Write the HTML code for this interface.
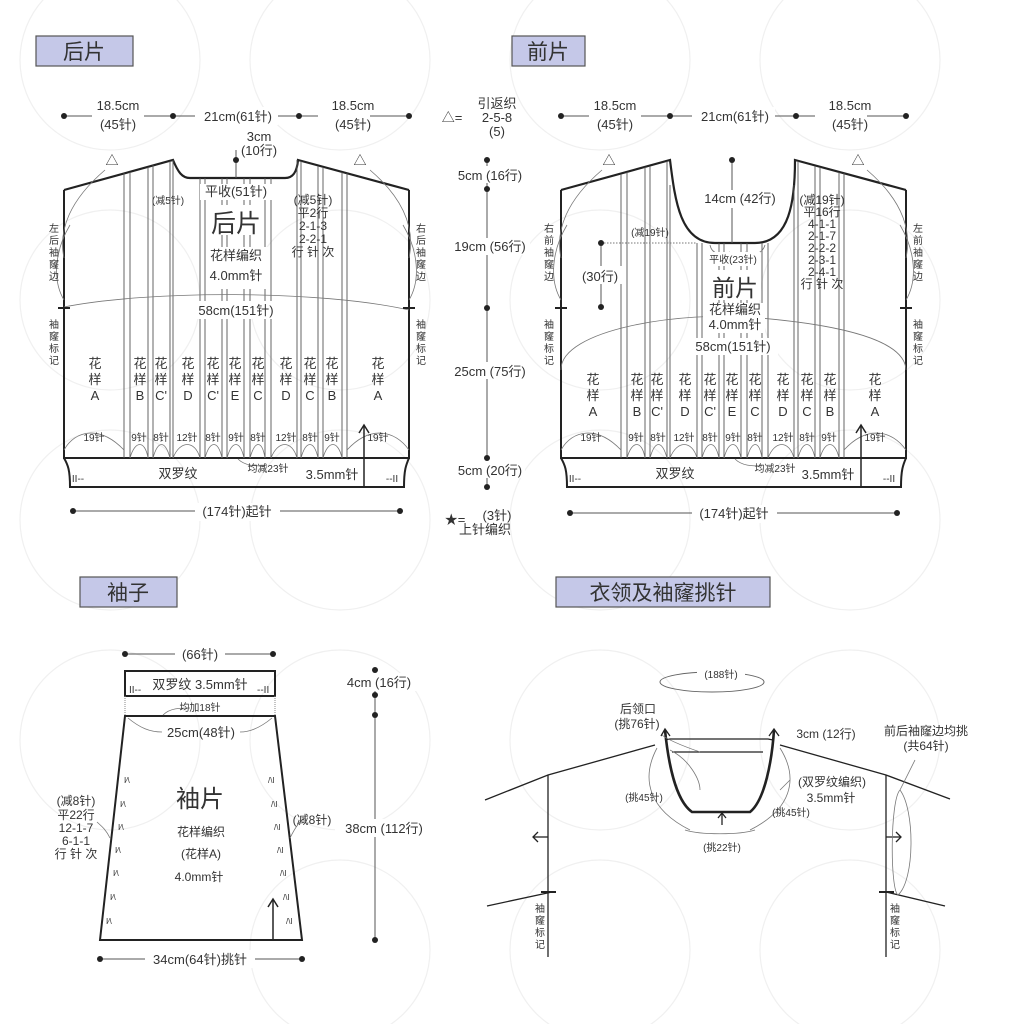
<!DOCTYPE html>
<html><head><meta charset="utf-8"><style>
html,body{margin:0;padding:0;background:#fff}
svg{display:block}
text{font-family:"Liberation Sans","Noto Sans CJK SC",sans-serif;fill:#333}
.s{font-size:12px}.m{font-size:13px}.xs{font-size:10px}
</style></head><body>
<svg width="1014" height="1024" viewBox="0 0 1014 1024" xmlns="http://www.w3.org/2000/svg">
<rect width="1014" height="1024" fill="#fff"/>
<g fill="none" stroke="#f0f0f0" stroke-width="1.2">
<circle cx="110" cy="60" r="90"/><circle cx="340" cy="60" r="90"/><circle cx="600" cy="60" r="90"/><circle cx="850" cy="60" r="90"/>
<circle cx="110" cy="300" r="90"/><circle cx="340" cy="300" r="90"/><circle cx="600" cy="300" r="90"/><circle cx="850" cy="300" r="90"/>
<circle cx="110" cy="520" r="90"/><circle cx="340" cy="520" r="90"/><circle cx="600" cy="520" r="90"/><circle cx="850" cy="520" r="90"/>
<circle cx="110" cy="740" r="90"/><circle cx="340" cy="740" r="90"/><circle cx="600" cy="740" r="90"/><circle cx="850" cy="740" r="90"/>
<circle cx="340" cy="950" r="90"/><circle cx="600" cy="950" r="90"/><circle cx="850" cy="950" r="90"/>
</g>
<g stroke="#555" stroke-width="1.2" fill="#c5c8e8">
<rect x="36" y="36" width="97" height="30"/><rect x="512" y="36" width="73" height="30"/>
<rect x="80" y="577" width="97" height="30"/><rect x="556" y="577" width="214" height="30"/>
</g>
<g style="font-size:21px"><text x="84" y="59" text-anchor="middle">后片</text><text x="548" y="59" text-anchor="middle">前片</text>
<text x="128" y="600" text-anchor="middle">袖子</text><text x="663" y="600" text-anchor="middle">衣领及袖窿挑针</text></g>

<!-- BACK -->
<g stroke="#222" fill="none">
<path d="M64,190 L173,160 C178,172 182,178 190,178 L285,178 C293,178 297,172 298,160 L409,190" stroke-width="2.2"/>
<path d="M64,190 L64,458 L409,458 L409,190" stroke-width="2"/>
<path d="M64,458 C68,465 70,470 70,487 L404,487 C404,470 406,465 409,458" stroke-width="2"/>
</g>
<g stroke="#555" stroke-width="0.9">
<line x1="124" y1="173" x2="124" y2="458"/><line x1="130" y1="172" x2="130" y2="458"/>
<line x1="148" y1="167" x2="148" y2="458"/><line x1="153" y1="165" x2="153" y2="458"/>
<line x1="170" y1="161" x2="170" y2="458"/><line x1="173" y1="160" x2="173" y2="458"/>
<line x1="200" y1="178" x2="200" y2="458"/><line x1="205" y1="178" x2="205" y2="458"/>
<line x1="222" y1="178" x2="222" y2="458"/><line x1="227" y1="178" x2="227" y2="458"/>
<line x1="244" y1="178" x2="244" y2="458"/><line x1="250" y1="178" x2="250" y2="458"/>
<line x1="265" y1="178" x2="265" y2="458"/><line x1="271" y1="178" x2="271" y2="458"/>
<line x1="297" y1="160" x2="297" y2="458"/><line x1="301" y1="161" x2="301" y2="458"/>
<line x1="318" y1="166" x2="318" y2="458"/><line x1="323" y1="167" x2="323" y2="458"/>
<line x1="342" y1="172" x2="342" y2="458"/><line x1="347" y1="173" x2="347" y2="458"/>
</g>
<g stroke="#777" fill="none" stroke-width="0.8">
<path d="M64,307 C150,290 320,290 409,310"/>
<path d="M64,258 C58,230 70,200 105,170"/><path d="M409,258 C415,230 405,200 370,170"/>
<path d="M64,300 C52,280 55,250 70,225"/><path d="M409,300 C421,280 418,250 403,225"/>
<path d="M64,450 C75,430 100,425 124,450"/><path d="M347,450 C370,425 395,430 409,450"/>
<path d="M130,458 C135,440 145,440 148,458"/><path d="M153,458 C158,440 165,440 170,458"/>
<path d="M173,458 C180,440 195,440 200,458"/><path d="M205,458 C210,440 218,440 222,458"/>
<path d="M227,458 C232,440 240,440 244,458"/><path d="M250,458 C255,440 262,440 265,458"/>
<path d="M271,458 C278,440 292,440 297,458"/><path d="M301,458 C306,440 314,440 318,458"/>
<path d="M323,458 C328,440 338,440 342,458"/>
<path d="M238,459 C245,466 255,466 265,466"/>
</g>
<line x1="364" y1="487" x2="364" y2="426" stroke="#222" stroke-width="1.5"/>
<path d="M359,433 L364,425 L369,433" fill="none" stroke="#222" stroke-width="1.5"/>
<g stroke="#222" stroke-width="2"><line x1="58" y1="308" x2="70" y2="308"/><line x1="403" y1="308" x2="415" y2="308"/></g>
<g stroke="#555" stroke-width="1"><line x1="64" y1="116" x2="409" y2="116"/><line x1="236" y1="150" x2="236" y2="178"/></g>
<rect x="92" y="100" width="52" height="32" fill="#fff"/><rect x="195" y="107" width="83" height="18" fill="#fff"/><rect x="318" y="100" width="52" height="32" fill="#fff"/>
<g fill="#222"><circle cx="64" cy="116" r="3"/><circle cx="173" cy="116" r="3"/><circle cx="299" cy="116" r="3"/><circle cx="409" cy="116" r="3"/><circle cx="236" cy="160" r="3"/></g>
<g class="m" text-anchor="middle">
<text x="118" y="110">18.5cm</text><text x="118" y="129">(45针)</text>
<text x="238" y="121">21cm(61针)</text>
<text x="353" y="110">18.5cm</text><text x="353" y="129">(45针)</text>
<text x="259" y="141">3cm</text><text x="259" y="155">(10行)</text>
<text x="112" y="165">△</text><text x="360" y="165">△</text>
</g>
<rect x="200" y="184" width="72" height="16" fill="#fff"/>
<text x="236" y="196" class="m" text-anchor="middle">平收(51针)</text>
<text x="168" y="204" class="xs" text-anchor="middle">(减5针)</text>
<g class="s" text-anchor="middle"><text x="313" y="204">(减5针)</text><text x="313" y="217">平2行</text><text x="313" y="230">2-1-3</text><text x="313" y="243">2-2-1</text><text x="313" y="256">行 针 次</text></g>
<rect x="212" y="205" width="50" height="30" fill="#fff"/>
<text x="236" y="232" style="font-size:25px" text-anchor="middle">后片</text>
<rect x="206" y="247" width="62" height="42" fill="#fff"/>
<text x="236" y="260" class="m" text-anchor="middle">花样编织</text><text x="236" y="280" class="m" text-anchor="middle">4.0mm针</text>
<rect x="195" y="301" width="85" height="18" fill="#fff"/>
<text x="236" y="315" class="m" text-anchor="middle">58cm(151针)</text>
<g class="xs" text-anchor="middle">
<text x="54" y="232">左</text><text x="54" y="244">后</text><text x="54" y="256">袖</text><text x="54" y="268">窿</text><text x="54" y="280">边</text>
<text x="54" y="328">袖</text><text x="54" y="340">窿</text><text x="54" y="352">标</text><text x="54" y="364">记</text>
<text x="421" y="232">右</text><text x="421" y="244">后</text><text x="421" y="256">袖</text><text x="421" y="268">窿</text><text x="421" y="280">边</text>
<text x="421" y="328">袖</text><text x="421" y="340">窿</text><text x="421" y="352">标</text><text x="421" y="364">记</text>
</g>
<g class="m" text-anchor="middle">
<text x="95" y="368">花</text><text x="95" y="384">样</text><text x="95" y="400">A</text>
<text x="140" y="368">花</text><text x="140" y="384">样</text><text x="140" y="400">B</text>
<text x="161" y="368">花</text><text x="161" y="384">样</text><text x="161" y="400">C'</text>
<text x="188" y="368">花</text><text x="188" y="384">样</text><text x="188" y="400">D</text>
<text x="213" y="368">花</text><text x="213" y="384">样</text><text x="213" y="400">C'</text>
<text x="235" y="368">花</text><text x="235" y="384">样</text><text x="235" y="400">E</text>
<text x="258" y="368">花</text><text x="258" y="384">样</text><text x="258" y="400">C</text>
<text x="286" y="368">花</text><text x="286" y="384">样</text><text x="286" y="400">D</text>
<text x="310" y="368">花</text><text x="310" y="384">样</text><text x="310" y="400">C</text>
<text x="332" y="368">花</text><text x="332" y="384">样</text><text x="332" y="400">B</text>
<text x="378" y="368">花</text><text x="378" y="384">样</text><text x="378" y="400">A</text>
</g>
<g class="xs" text-anchor="middle">
<text x="94" y="441">19针</text><text x="139" y="441">9针</text><text x="161" y="441">8针</text><text x="187" y="441">12针</text>
<text x="213" y="441">8针</text><text x="236" y="441">9针</text><text x="258" y="441">8针</text><text x="286" y="441">12针</text>
<text x="310" y="441">8针</text><text x="332" y="441">9针</text><text x="378" y="441">19针</text>
<text x="78" y="482">II--</text><text x="392" y="482">--II</text>
<text x="268" y="472">均减23针</text>
</g>
<text x="178" y="478" class="m" text-anchor="middle">双罗纹</text>
<text x="332" y="479" class="m" text-anchor="middle">3.5mm针</text>
<line x1="73" y1="511" x2="400" y2="511" stroke="#555"/>
<rect x="195" y="503" width="85" height="18" fill="#fff"/>
<g fill="#222"><circle cx="73" cy="511" r="3"/><circle cx="400" cy="511" r="3"/></g>
<text x="237" y="516" class="m" text-anchor="middle">(174针)起针</text>

<!-- CENTER -->
<line x1="487" y1="160" x2="487" y2="487" stroke="#555"/>
<g fill="#fff"><rect x="455" y="166" width="70" height="17"/><rect x="450" y="238" width="80" height="17"/><rect x="450" y="362" width="80" height="17"/><rect x="455" y="461" width="70" height="17"/></g>
<g fill="#222"><circle cx="487" cy="160" r="3"/><circle cx="487" cy="189" r="3"/><circle cx="487" cy="308" r="3"/><circle cx="487" cy="458" r="3"/><circle cx="487" cy="487" r="3"/></g>
<g class="m" text-anchor="middle">
<text x="490" y="180">5cm (16行)</text><text x="490" y="251">19cm (56行)</text><text x="490" y="376">25cm (75行)</text><text x="490" y="475">5cm (20行)</text>
<text x="497" y="108">引返织</text><text x="497" y="122">2-5-8</text><text x="497" y="136">(5)</text>
<text x="452" y="122">△=</text>
<text x="497" y="520">(3针)</text><text x="485" y="534">上针编织</text>
<text x="455" y="524">★=</text>
</g>

<!-- FRONT -->
<g stroke="#222" fill="none">
<path d="M561,190 L670,160 C675,200 680,243 715,243 L755,243 C790,243 795,200 795,160 L906,190" stroke-width="2.2"/>
<path d="M561,190 L561,458 L906,458 L906,190" stroke-width="2"/>
<path d="M561,458 C565,465 567,470 567,487 L901,487 C901,470 903,465 906,458" stroke-width="2"/>
</g>
<g stroke="#555" stroke-width="0.9">
<line x1="621" y1="174" x2="621" y2="458"/><line x1="627" y1="172" x2="627" y2="458"/>
<line x1="645" y1="167" x2="645" y2="458"/><line x1="650" y1="166" x2="650" y2="458"/>
<line x1="667" y1="161" x2="667" y2="458"/><line x1="670" y1="185" x2="670" y2="458"/>
<line x1="697" y1="243" x2="697" y2="458"/><line x1="702" y1="243" x2="702" y2="458"/>
<line x1="719" y1="243" x2="719" y2="458"/><line x1="724" y1="243" x2="724" y2="458"/>
<line x1="741" y1="243" x2="741" y2="458"/><line x1="747" y1="243" x2="747" y2="458"/>
<line x1="762" y1="243" x2="762" y2="458"/><line x1="768" y1="243" x2="768" y2="458"/>
<line x1="794" y1="185" x2="794" y2="458"/><line x1="798" y1="161" x2="798" y2="458"/>
<line x1="815" y1="166" x2="815" y2="458"/><line x1="820" y1="167" x2="820" y2="458"/>
<line x1="839" y1="172" x2="839" y2="458"/><line x1="844" y1="173" x2="844" y2="458"/>
</g>
<g stroke="#777" fill="none" stroke-width="0.8">
<path d="M561,370 C560,330 680,310 760,318 C840,325 905,340 906,370"/>
<path d="M561,258 C555,230 567,200 602,170"/><path d="M906,258 C912,230 902,200 867,170"/>
<path d="M561,300 C549,280 552,250 567,225"/><path d="M906,300 C918,280 915,250 900,225"/>
<path d="M561,450 C572,430 597,425 621,450"/><path d="M844,450 C867,425 892,430 906,450"/>
<path d="M627,458 C632,440 642,440 645,458"/><path d="M650,458 C655,440 662,440 667,458"/>
<path d="M670,458 C677,440 692,440 697,458"/><path d="M702,458 C707,440 715,440 719,458"/>
<path d="M724,458 C729,440 737,440 741,458"/><path d="M747,458 C752,440 759,440 762,458"/>
<path d="M768,458 C775,440 789,440 794,458"/><path d="M798,458 C803,440 811,440 815,458"/>
<path d="M820,458 C825,440 835,440 839,458"/>
<path d="M735,459 C742,466 752,466 762,466"/>
<path d="M710,245 C712,255 722,255 730,252"/><path d="M765,245 C762,255 752,255 745,252"/>
</g>
<line x1="861" y1="487" x2="861" y2="426" stroke="#222" stroke-width="1.5"/>
<path d="M856,433 L861,425 L866,433" fill="none" stroke="#222" stroke-width="1.5"/>
<g stroke="#222" stroke-width="2"><line x1="555" y1="308" x2="567" y2="308"/><line x1="900" y1="308" x2="912" y2="308"/></g>
<line x1="732" y1="160" x2="732" y2="243" stroke="#555"/>
<circle cx="732" cy="160" r="3" fill="#222"/>
<line x1="601" y1="243" x2="697" y2="243" stroke="#777" stroke-dasharray="1.5,1.5"/>
<line x1="601" y1="243" x2="601" y2="308" stroke="#555"/>
<g fill="#222"><circle cx="601" cy="243" r="3"/><circle cx="601" cy="307" r="3"/></g>
<rect x="582" y="266" width="40" height="18" fill="#fff"/>
<text x="600" y="281" class="m" text-anchor="middle">(30行)</text>
<g stroke="#555" stroke-width="1"><line x1="561" y1="116" x2="906" y2="116"/></g>
<rect x="589" y="100" width="52" height="32" fill="#fff"/><rect x="692" y="107" width="83" height="18" fill="#fff"/><rect x="815" y="100" width="52" height="32" fill="#fff"/>
<g fill="#222"><circle cx="561" cy="116" r="3"/><circle cx="670" cy="116" r="3"/><circle cx="796" cy="116" r="3"/><circle cx="906" cy="116" r="3"/></g>
<g class="m" text-anchor="middle">
<text x="615" y="110">18.5cm</text><text x="615" y="129">(45针)</text>
<text x="735" y="121">21cm(61针)</text>
<text x="850" y="110">18.5cm</text><text x="850" y="129">(45针)</text>
<text x="609" y="165">△</text><text x="858" y="165">△</text>
</g>
<rect x="700" y="190" width="80" height="18" fill="#fff"/>
<text x="740" y="203" class="m" text-anchor="middle">14cm (42行)</text>
<text x="650" y="236" class="xs" text-anchor="middle">(减19针)</text>
<g class="s" text-anchor="middle"><text x="822" y="204">(减19针)</text><text x="822" y="216">平16行</text><text x="822" y="228">4-1-1</text><text x="822" y="240">2-1-7</text><text x="822" y="252">2-2-2</text><text x="822" y="264">2-3-1</text><text x="822" y="276">2-4-1</text><text x="822" y="288">行 针 次</text></g>
<rect x="705" y="252" width="55" height="14" fill="#fff"/>
<text x="733" y="263" class="xs" text-anchor="middle">平收(23针)</text>
<rect x="705" y="270" width="56" height="30" fill="#fff"/>
<text x="735" y="296" style="font-size:23px" text-anchor="middle">前片</text>
<rect x="703" y="303" width="62" height="30" fill="#fff"/>
<text x="735" y="314" class="m" text-anchor="middle">花样编织</text><text x="735" y="329" class="m" text-anchor="middle">4.0mm针</text>
<rect x="690" y="338" width="88" height="17" fill="#fff"/>
<text x="733" y="351" class="m" text-anchor="middle">58cm(151针)</text>
<g class="xs" text-anchor="middle">
<text x="549" y="232">右</text><text x="549" y="244">前</text><text x="549" y="256">袖</text><text x="549" y="268">窿</text><text x="549" y="280">边</text>
<text x="549" y="328">袖</text><text x="549" y="340">窿</text><text x="549" y="352">标</text><text x="549" y="364">记</text>
<text x="918" y="232">左</text><text x="918" y="244">前</text><text x="918" y="256">袖</text><text x="918" y="268">窿</text><text x="918" y="280">边</text>
<text x="918" y="328">袖</text><text x="918" y="340">窿</text><text x="918" y="352">标</text><text x="918" y="364">记</text>
</g>
<g class="m" text-anchor="middle">
<text x="593" y="384">花</text><text x="593" y="400">样</text><text x="593" y="416">A</text>
<text x="637" y="384">花</text><text x="637" y="400">样</text><text x="637" y="416">B</text>
<text x="657" y="384">花</text><text x="657" y="400">样</text><text x="657" y="416">C'</text>
<text x="685" y="384">花</text><text x="685" y="400">样</text><text x="685" y="416">D</text>
<text x="710" y="384">花</text><text x="710" y="400">样</text><text x="710" y="416">C'</text>
<text x="732" y="384">花</text><text x="732" y="400">样</text><text x="732" y="416">E</text>
<text x="755" y="384">花</text><text x="755" y="400">样</text><text x="755" y="416">C</text>
<text x="783" y="384">花</text><text x="783" y="400">样</text><text x="783" y="416">D</text>
<text x="807" y="384">花</text><text x="807" y="400">样</text><text x="807" y="416">C</text>
<text x="830" y="384">花</text><text x="830" y="400">样</text><text x="830" y="416">B</text>
<text x="875" y="384">花</text><text x="875" y="400">样</text><text x="875" y="416">A</text>
</g>
<g class="xs" text-anchor="middle">
<text x="591" y="441">19针</text><text x="636" y="441">9针</text><text x="658" y="441">8针</text><text x="684" y="441">12针</text>
<text x="710" y="441">8针</text><text x="733" y="441">9针</text><text x="755" y="441">8针</text><text x="783" y="441">12针</text>
<text x="807" y="441">8针</text><text x="829" y="441">9针</text><text x="875" y="441">19针</text>
<text x="575" y="482">II--</text><text x="889" y="482">--II</text>
<text x="775" y="472">均减23针</text>
</g>
<text x="675" y="478" class="m" text-anchor="middle">双罗纹</text>
<text x="828" y="479" class="m" text-anchor="middle">3.5mm针</text>
<line x1="570" y1="513" x2="897" y2="513" stroke="#555"/>
<rect x="692" y="505" width="85" height="18" fill="#fff"/>
<g fill="#222"><circle cx="570" cy="513" r="3"/><circle cx="897" cy="513" r="3"/></g>
<text x="734" y="518" class="m" text-anchor="middle">(174针)起针</text>

<!-- SLEEVE -->
<line x1="125" y1="654" x2="273" y2="654" stroke="#555"/>
<rect x="175" y="645" width="50" height="18" fill="#fff"/>
<g fill="#222"><circle cx="125" cy="654" r="3"/><circle cx="273" cy="654" r="3"/></g>
<text x="200" y="659" class="m" text-anchor="middle">(66针)</text>
<rect x="125" y="671" width="150" height="25" fill="none" stroke="#222" stroke-width="2"/>
<text x="200" y="689" class="m" text-anchor="middle">双罗纹 3.5mm针</text>
<g class="xs"><text x="129" y="693">II--</text><text x="257" y="693">--II</text></g>
<g stroke="#888" stroke-dasharray="1,1"><line x1="125" y1="696" x2="125" y2="716"/><line x1="275" y1="696" x2="275" y2="716"/></g>
<path d="M125,716 L275,716 L302,940 L100,940 Z" fill="none" stroke="#222" stroke-width="2"/>
<g fill="none" stroke="#777" stroke-width="0.8"><path d="M128,718 C140,728 150,732 162,732"/><path d="M272,718 C260,728 250,732 240,732"/>
<path d="M163,715 C170,708 180,708 190,708"/><path d="M110,838 C105,828 100,825 97,822"/><path d="M290,838 C295,828 300,820 305,818"/></g>
<text x="200" y="711" class="xs" text-anchor="middle">均加18针</text>
<text x="201" y="737" class="m" text-anchor="middle">25cm(48针)</text>
<text x="200" y="807" style="font-size:24px" text-anchor="middle">袖片</text>
<g class="s" text-anchor="middle"><text x="201" y="836">花样编织</text><text x="201" y="858">(花样A)</text><text x="199" y="881">4.0mm针</text></g>
<g class="s" text-anchor="middle"><text x="76" y="805">(减8针)</text><text x="76" y="819">平22行</text><text x="76" y="832">12-1-7</text><text x="76" y="845">6-1-1</text><text x="76" y="858">行 针 次</text>
<text x="312" y="824">(减8针)</text></g>
<g class="xs" style="font-size:8px">
<text x="124" y="783">I⁄\</text><text x="120" y="807">I⁄\</text><text x="118" y="830">I⁄\</text><text x="115" y="853">I⁄\</text><text x="113" y="876">I⁄\</text><text x="110" y="900">I⁄\</text><text x="106" y="924">I⁄\</text>
<text x="268" y="783">/\I</text><text x="271" y="807">/\I</text><text x="274" y="830">/\I</text><text x="277" y="853">/\I</text><text x="280" y="876">/\I</text><text x="283" y="900">/\I</text><text x="286" y="924">/\I</text>
</g>
<line x1="273" y1="940" x2="273" y2="900" stroke="#222" stroke-width="1.5"/>
<path d="M268,907 L273,899 L278,907" fill="none" stroke="#222" stroke-width="1.5"/>
<line x1="100" y1="959" x2="302" y2="959" stroke="#555"/>
<rect x="145" y="950" width="110" height="18" fill="#fff"/>
<g fill="#222"><circle cx="100" cy="959" r="3"/><circle cx="302" cy="959" r="3"/></g>
<text x="200" y="964" class="m" text-anchor="middle">34cm(64针)挑针</text>
<line x1="375" y1="670" x2="375" y2="940" stroke="#555"/>
<g fill="#fff"><rect x="345" y="673" width="72" height="18"/><rect x="335" y="819" width="85" height="18"/></g>
<g fill="#222"><circle cx="375" cy="670" r="3"/><circle cx="375" cy="695" r="3"/><circle cx="375" cy="715" r="3"/><circle cx="375" cy="940" r="3"/></g>
<text x="379" y="687" class="m" text-anchor="middle">4cm (16行)</text>
<text x="384" y="833" class="m" text-anchor="middle">38cm (112行)</text>

<!-- NECK PICKUP -->
<ellipse cx="712" cy="682" rx="52" ry="10" fill="none" stroke="#666"/>
<rect x="697" y="668" width="48" height="14" fill="#fff"/>
<text x="721" y="678" class="xs" text-anchor="middle">(188针)</text>
<g stroke="#222" fill="none" stroke-width="1.3">
<path d="M485,800 L548,775 L655,745"/><path d="M780,745 L886,775 L950,799"/>
<line x1="548" y1="775" x2="548" y2="957"/><line x1="886" y1="775" x2="886" y2="957"/>
<path d="M487,906 L552,892"/><path d="M886,892 L945,906"/>
<line x1="548" y1="837" x2="533" y2="837"/><path d="M538,832 L533,837 L538,842"/>
<line x1="886" y1="837" x2="901" y2="837"/><path d="M896,832 L901,837 L896,842"/>
<line x1="722" y1="825" x2="722" y2="814"/><path d="M718,818 L722,813 L726,818"/>
<path d="M665,740 L670,739 L768,739 L773,740"/>
<line x1="672" y1="752" x2="763" y2="752"/>
<path d="M661,736 L665,729 L670,736"/><path d="M769,736 L774,729 L779,736"/>
</g>
<g stroke="#222" stroke-width="2"><line x1="541" y1="892" x2="556" y2="892"/><line x1="879" y1="892" x2="894" y2="892"/></g>
<path d="M665,730 C668,760 675,800 692,812 L750,812 C765,800 772,760 774,730" fill="none" stroke="#222" stroke-width="2.6"/>
<g fill="none" stroke="#777" stroke-width="0.8">
<path d="M657,748 C640,780 650,810 690,830"/><path d="M780,748 C800,780 790,810 750,830"/>
<path d="M685,830 C700,835 740,835 755,830"/><path d="M670,750 C690,760 700,780 700,790"/>
<path d="M900,790 C915,810 915,880 898,895 C890,890 890,800 900,790"/>
<path d="M900,790 L915,760"/><path d="M780,790 L790,780"/><path d="M662,735 C668,740 680,745 700,752"/>
</g>
<g class="s" text-anchor="middle">
<text x="638" y="713">后领口</text><text x="637" y="728">(挑76针)</text>
<text x="826" y="738">3cm (12行)</text>
<text x="926" y="735">前后袖窿边均挑</text><text x="926" y="750">(共64针)</text>
<text x="832" y="786">(双罗纹编织)</text><text x="831" y="802">3.5mm针</text>
</g>
<g class="xs" text-anchor="middle">
<text x="644" y="801">(挑45针)</text><text x="791" y="816">(挑45针)</text><text x="722" y="851">(挑22针)</text>
<text x="540" y="912">袖</text><text x="540" y="924">窿</text><text x="540" y="936">标</text><text x="540" y="948">记</text>
<text x="895" y="912">袖</text><text x="895" y="924">窿</text><text x="895" y="936">标</text><text x="895" y="948">记</text>
</g>
</svg>
</body></html>
